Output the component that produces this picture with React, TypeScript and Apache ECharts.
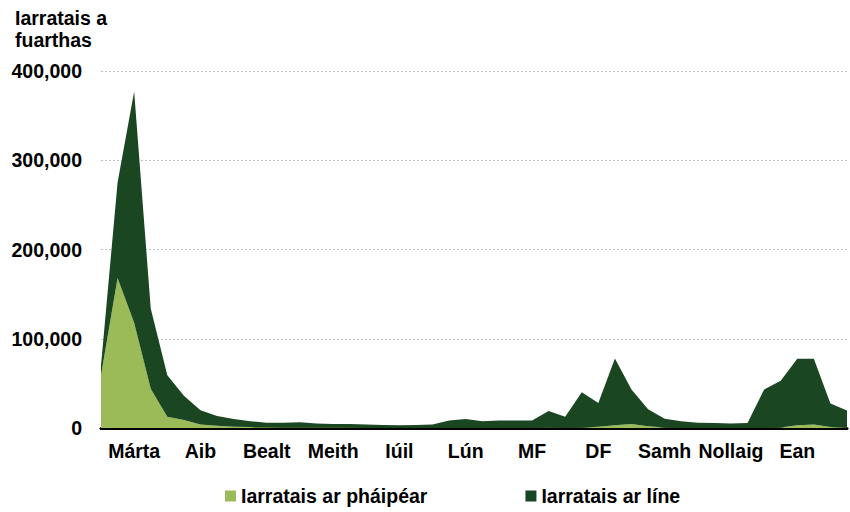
import React, { useEffect, useRef } from "react";
import * as echarts from "echarts";

const weeks = [
  "S01", "S02", "S03", "S04", "S05", "S06", "S07", "S08", "S09", "S10",
  "S11", "S12", "S13", "S14", "S15", "S16", "S17", "S18", "S19", "S20",
  "S21", "S22", "S23", "S24", "S25", "S26", "S27", "S28", "S29", "S30",
  "S31", "S32", "S33", "S34", "S35", "S36", "S37", "S38", "S39", "S40",
  "S41", "S42", "S43", "S44", "S45", "S46",
];

const monthLabels = ["Márta", "Aib", "Bealt", "Meith", "Iúil", "Lún", "MF", "DF", "Samh", "Nollaig", "Ean"];

const paperApps = [
  59000, 168000, 118000, 44000, 12500, 9000, 4000, 2500, 1500, 1000,
  800, 700, 600, 500, 500, 500, 400, 400, 300, 300,
  300, 400, 400, 400, 400, 400, 400, 500, 400, 600,
  1500, 3000, 4500, 2000, 600, 400, 300, 300, 300, 300,
  400, 600, 3000, 4000, 1000, 500,
];

const onlineApps = [
  11000, 107000, 259000, 90000, 46500, 27000, 16000, 11000, 8500, 6500,
  5200, 5300, 5900, 4500, 4000, 4000, 3600, 3100, 2700, 3200,
  3700, 8100, 9600, 7100, 8100, 8100, 8100, 18500, 12100, 39400,
  26500, 75000, 38500, 19000, 9900, 7100, 5700, 5200, 4700, 5200,
  42600, 52400, 74500, 73500, 26500, 19000,
];

const yTicks = { min: 0, max: 400000, interval: 100000 };

const seriesNames = ["Iarratais ar pháipéar", "Iarratais ar líne"];
const titleText = "Iarratais a\nfuarthas";

export default function App() {
  const ref = useRef<HTMLDivElement>(null);
  useEffect(() => {
    document.body.style.margin = "0";
    const chart = echarts.init(ref.current!, null, { renderer: "svg" });
    const font = "'Liberation Sans', Arial, sans-serif";
    chart.setOption({
      animation: false,
      textStyle: { fontFamily: font },
      title: {
        text: titleText,
        left: 10,
        top: 2,
        textStyle: {
          fontFamily: font,
          fontSize: 19.5,
          fontWeight: "bold",
          color: "#000",
          lineHeight: 22,
        },
      },
      legend: {
        data: seriesNames,
        left: 220,
        top: 481,
        itemWidth: 11,
        itemHeight: 11,
        itemGap: 98,
        icon: "rect",
        textStyle: { fontFamily: font, fontSize: 19.5, fontWeight: "bold", color: "#000" },
      },
      grid: { left: 101, right: 0, top: 71, bottom: 84, containLabel: false },
      xAxis: {
        type: "category",
        data: weeks,
        boundaryGap: false,
        axisLine: { show: true, lineStyle: { color: "#000", width: 3 } },
        axisTick: { show: false },
        axisLabel: {
          interval: 0,
          margin: 13,
          fontFamily: font,
          fontSize: 19.5,
          fontWeight: "bold",
          color: "#000",
          formatter: (_v: string, i: number) => (i % 4 === 2 ? monthLabels[(i - 2) / 4] : ""),
        },
        splitLine: { show: false },
      },
      yAxis: {
        type: "value",
        min: yTicks.min,
        max: yTicks.max,
        interval: yTicks.interval,
        axisLine: { show: false },
        axisTick: { show: false },
        axisLabel: {
          margin: 19,
          fontFamily: font,
          fontSize: 19.5,
          fontWeight: "bold",
          color: "#000",
          formatter: (v: number) => v.toLocaleString("en-US"),
        },
        splitLine: { show: true, lineStyle: { color: "#c0c0c0", type: [2, 2], width: 1 } },
      },
      series: [
        {
          name: seriesNames[0],
          type: "line",
          stack: "total",
          data: paperApps,
          symbol: "none",
          lineStyle: { width: 0 },
          itemStyle: { color: "#9bbb59" },
          areaStyle: { color: "#9bbb59", opacity: 1 },
        },
        {
          name: seriesNames[1],
          type: "line",
          stack: "total",
          data: onlineApps,
          symbol: "none",
          lineStyle: { width: 0 },
          itemStyle: { color: "#1a4621" },
          areaStyle: { color: "#1a4621", opacity: 1 },
        },
      ],
    });
    return () => chart.dispose();
  }, []);
  return <div ref={ref} style={{ width: 850, height: 512 }} />;
}
